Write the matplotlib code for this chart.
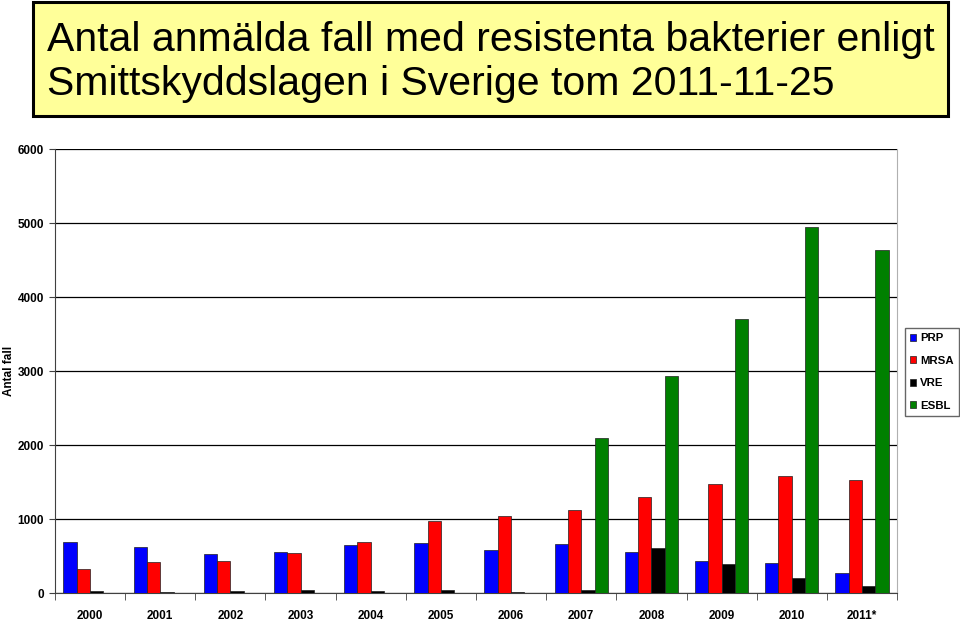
import numpy as np
import matplotlib
matplotlib.use("Agg")
from matplotlib import pyplot as plt
from matplotlib.patches import Rectangle

# data
years = ["2000", "2001", "2002", "2003", "2004", "2005",
         "2006", "2007", "2008", "2009", "2010", "2011*"]
prp = [685, 622, 523, 558, 649, 676, 581, 662, 558, 436, 409, 270]
mrsa = [320, 419, 432, 536, 694, 973, 1045, 1126, 1297, 1473, 1577, 1527]
vre = [23, 10, 23, 45, 23, 36, 18, 45, 612, 396, 207, 95]
esbl = [0, 0, 0, 0, 0, 0, 0, 2090, 2932, 3703, 4946, 4635]

series = [("PRP", prp, "#0000ff"), ("MRSA", mrsa, "#ff0000"),
          ("VRE", vre, "#000000"), ("ESBL", esbl, "#008000")]

plt.rcParams["font.family"] = ["Liberation Sans", "DejaVu Sans"]

fig = plt.figure(figsize=(9.6, 6.23), dpi=100)
W, H = 960, 623
ax = fig.add_axes([55 / W, 30 / H, (897 - 55) / W, (593 - 149) / H])

x = np.arange(len(years))
bw = 0.19
for i, (name, vals, col) in enumerate(series):
    ax.bar(x + (i - 1.5) * bw, vals, bw, color=col, edgecolor="#202020",
           linewidth=0.5, label=name, zorder=3)

ax.set_xlim(-0.5, len(years) - 0.5)
ax.set_ylim(0, 6000)
ax.set_yticks(range(0, 6001, 1000))
ax.set_yticklabels([str(v) for v in range(0, 6001, 1000)], fontsize=8.5, fontweight="bold")
ax.yaxis.grid(True, color="black", linewidth=0.9, zorder=0)
ax.set_xticks(x)
ax.set_xticklabels(years, fontsize=8.5, fontweight="bold")
ax.set_xticks(np.arange(-0.5, len(years)), minor=True)
ax.tick_params(axis="x", which="major", length=0, pad=12)
ax.tick_params(axis="x", which="minor", length=5, color="#404040")
ax.tick_params(axis="y", length=4, color="#404040", pad=4)
ax.spines["top"].set_visible(False)
ax.spines["left"].set_color("#404040")
ax.spines["bottom"].set_color("#404040")
ax.spines["right"].set_color("#b0b0b0")
ax.set_ylabel("Antal fall", fontsize=8.5, fontweight="bold")
ax.yaxis.set_label_coords(-40 / 842, 0.5)

leg = fig.legend(loc="upper left", bbox_to_anchor=(905 / W, 1 - 328 / H),
                 fontsize=8.2, frameon=True, fancybox=False, edgecolor="#404040",
                 handlelength=0.55, handleheight=0.55, handletextpad=0.3,
                 borderpad=0.45, labelspacing=1.1, borderaxespad=0)
for t in leg.get_texts():
    t.set_fontweight("bold")

# title box
fig.patches.append(Rectangle((33 / W, 1 - 116 / H), (948 - 33) / W, 114 / H,
                             transform=fig.transFigure, facecolor="#ffff99",
                             edgecolor="black", linewidth=2.2))
fig.text(47 / W, 1 - 51 / H, "Antal anmälda fall med resistenta bakterier enligt",
         fontsize=29.5)
fig.text(47 / W, 1 - 95 / H, "Smittskyddslagen i Sverige tom 2011-11-25",
         fontsize=29.5)

fig.savefig("out.png", dpi=100)
